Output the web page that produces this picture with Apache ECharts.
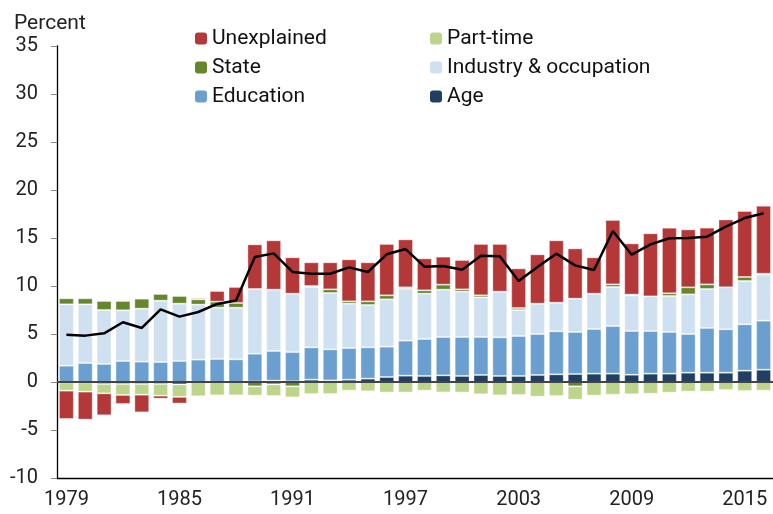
<!DOCTYPE html>
<html><head><meta charset="utf-8">
<script src="https://cdn.jsdelivr.net/npm/echarts@6/dist/echarts.min.js"></script>
<style>html,body{margin:0;padding:0;background:#fff}#c{width:773px;height:514px}</style>
</head><body><div id="c"></div><script>
const years = ['1979','1980','1981','1982','1983','1984','1985','1986','1987','1988','1989','1990','1991','1992','1993','1994','1995','1996','1997','1998','1999','2000','2001','2002','2003','2004','2005','2006','2007','2008','2009','2010','2011','2012','2013','2014','2015','2016'];
const age = [-0.05,-0.05,-0.2,-0.2,-0.2,-0.2,-0.25,0,0,0,0.05,0.14,0.07,0.24,0.17,0.24,0.35,0.52,0.66,0.63,0.69,0.63,0.73,0.63,0.63,0.73,0.8,0.83,0.87,0.87,0.76,0.87,0.87,0.97,0.97,0.97,1.18,1.28];
const education = [1.70,1.98,1.88,2.19,2.12,2.08,2.19,2.33,2.40,2.36,2.90,3.09,3.05,3.37,3.23,3.30,3.26,3.16,3.65,3.85,4.00,4.06,3.96,4.02,4.16,4.27,4.48,4.38,4.65,4.96,4.55,4.44,4.34,4.03,4.66,4.52,4.83,5.11];
const industry = [6.39,6.11,5.62,5.28,5.52,6.39,5.97,5.73,5.34,5.38,6.74,6.39,6.08,6.29,5.87,4.62,4.41,4.93,5.41,4.72,4.93,4.72,4.13,4.76,2.71,3.16,2.98,3.47,3.68,4.07,3.69,3.61,3.75,4.13,4.06,4.37,4.51,4.79];
const state = [0.63,0.63,0.94,0.97,1.04,0.70,0.80,0.55,0.63,0.49,-0.45,-0.25,-0.45,0.10,0.38,0.24,0.38,0.42,0.14,0.35,0.52,0.24,0.21,0,0.21,0,0,-0.45,0,0.27,0.10,0,0.28,0.73,0.48,0,0.42,0.10];
const partTime = [-0.85,-0.95,-0.98,-1.15,-1.12,-1.22,-1.30,-1.49,-1.39,-1.39,-0.97,-1.20,-1.15,-1.25,-1.25,-0.90,-0.97,-1.10,-1.10,-0.90,-1.08,-1.10,-1.28,-1.39,-1.35,-1.53,-1.46,-1.39,-1.42,-1.32,-1.28,-1.22,-1.11,-1.00,-1.00,-0.83,-0.94,-0.90];
const unexplained = [-2.95,-2.92,-2.29,-0.94,-1.84,-0.32,-0.69,0.14,1.11,1.67,4.65,5.14,3.79,2.47,2.82,4.38,4.07,5.35,5.00,3.33,2.92,3.06,5.35,4.97,4.13,5.14,6.50,5.24,3.79,6.71,5.34,6.57,6.84,6.04,5.91,7.08,6.87,7.09];
const total = [4.93,4.83,5.07,6.22,5.63,7.57,6.81,7.29,8.13,8.5,13.02,13.4,11.46,11.28,11.28,11.94,11.46,13.3,13.85,12.01,12.08,11.7,13.16,13.09,10.52,11.98,13.37,12.15,11.67,15.73,13.26,14.34,14.97,15.0,15.14,16.18,17.08,17.57];

const FONT = 'Roboto';
const colors = {
  'Age':'#213F63',
  'Education':'#6B9FD0',
  'Industry & occupation':'#CFE0F0',
  'State':'#66862B',
  'Part-time':'#BDD58A',
  'Unexplained':'#B53838'
};
function bar(name, data){
  return {name:name, type:'bar', stack:'t', data:data, barCategoryGap:'21%',
    itemStyle:{color:colors[name], borderColor:'rgba(255,255,255,0.35)', borderWidth:1}};
}
const chart = echarts.init(document.getElementById('c'), null, {renderer:'canvas'});
const legendBase = {orient:'vertical', top:28, padding:0, itemWidth:12, itemHeight:12, itemGap:8,
  selectedMode:false, textStyle:{fontFamily:FONT, fontSize:21, lineHeight:21, color:'#111'},
  itemStyle:{borderWidth:0}};
chart.setOption({
  animation:false,
  backgroundColor:'#fff',
  textStyle:{fontFamily:FONT},
  grid:{left:57, right:-2, top:46, bottom:36, containLabel:false},
  title:{text:'Percent', left:14, top:13, padding:0,
    textStyle:{fontFamily:FONT, fontSize:21, fontWeight:'normal', color:'#222'}},
  legend:[
    Object.assign({}, legendBase, {left:195, data:['Unexplained','State','Education']}),
    Object.assign({}, legendBase, {left:430, data:['Part-time','Industry & occupation','Age']})
  ],
  xAxis:{type:'category', data:years,
    axisLine:{onZero:false, lineStyle:{color:'#000', width:1.3}},
    axisTick:{interval:5, length:5, lineStyle:{color:'#333'}},
    axisLabel:{interval:5, fontFamily:FONT, fontSize:20, color:'#222', margin:12}},
  yAxis:{type:'value', min:-10, max:35, interval:5, splitLine:{show:false},
    axisLine:{show:true, lineStyle:{color:'#000', width:1.3}},
    axisTick:{show:true, length:6, lineStyle:{color:'#888'}},
    axisLabel:{fontFamily:FONT, fontSize:20, color:'#222', margin:19}},
  series:[
    bar('Age', age),
    bar('Education', education),
    bar('Industry & occupation', industry),
    bar('State', state),
    bar('Part-time', partTime),
    bar('Unexplained', unexplained),
    {name:'Total', type:'line', data:total, symbol:'none', z:5,
      lineStyle:{color:'#000', width:2.5},
      markLine:{silent:true, symbol:'none', label:{show:false},
        lineStyle:{color:'#444', width:2, type:'solid'}, data:[{yAxis:0}]}}
  ]
});
</script></body></html>
